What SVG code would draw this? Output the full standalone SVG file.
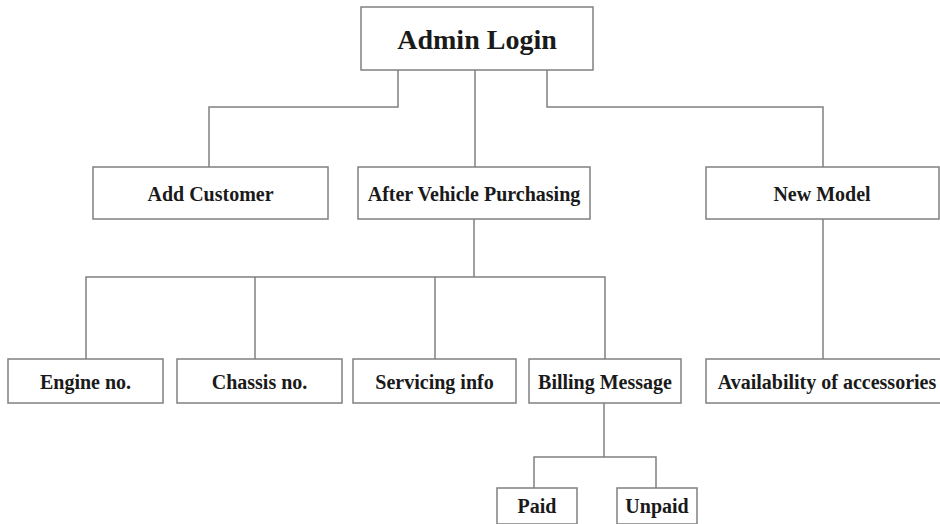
<svg xmlns="http://www.w3.org/2000/svg" width="940" height="524" viewBox="0 0 940 524">
<style>
.box{fill:#fff;stroke:#808080;stroke-width:1.5}
.lbl{font-family:"Liberation Serif","Times New Roman",serif;font-weight:bold;font-size:20px;fill:#1a1a1a;text-anchor:middle}
.big{font-size:28px}
.ln{fill:none;stroke:#808080;stroke-width:1.5}
</style>
<rect width="940" height="524" fill="#fff"/>
<g id="connectors">
<polyline class="ln" points="398,70 398,107 209,107 209,167"/>
<polyline class="ln" points="475,70 475,167"/>
<polyline class="ln" points="547,70 547,107 823,107 823,167"/>
<polyline class="ln" points="474,219 474,277"/>
<polyline class="ln" points="86,359 86,277 605,277 605,359"/>
<line class="ln" x1="255" y1="277" x2="255" y2="359"/>
<line class="ln" x1="435" y1="277" x2="435" y2="359"/>
<line class="ln" x1="823" y1="219" x2="823" y2="359"/>
<polyline class="ln" points="604,403 604,457"/>
<polyline class="ln" points="534,488 534,457 656,457 656,488"/>
</g>
<g id="admin-login"><rect class="box" x="361" y="7" width="232" height="63"/><text class="lbl big" x="477" y="49">Admin Login</text></g>
<g id="add-customer"><rect class="box" x="93" y="167" width="235" height="52"/><text class="lbl" x="210.5" y="201">Add Customer</text></g>
<g id="after-vehicle"><rect class="box" x="358" y="167" width="232" height="52"/><text class="lbl" x="474" y="201">After Vehicle Purchasing</text></g>
<g id="new-model"><rect class="box" x="706" y="167" width="233" height="52"/><text class="lbl" x="822" y="201">New Model</text></g>
<g id="engine-no"><rect class="box" x="8" y="359" width="155" height="44"/><text class="lbl" x="85.5" y="389">Engine no.</text></g>
<g id="chassis-no"><rect class="box" x="177" y="359" width="165" height="44"/><text class="lbl" x="259.5" y="389">Chassis no.</text></g>
<g id="servicing-info"><rect class="box" x="353" y="359" width="163" height="44"/><text class="lbl" x="434.5" y="389">Servicing info</text></g>
<g id="billing-message"><rect class="box" x="529" y="359" width="152" height="44"/><text class="lbl" x="605" y="389">Billing Message</text></g>
<g id="availability"><rect class="box" x="706" y="359" width="242" height="44"/><text class="lbl" x="827" y="389">Availability of accessories</text></g>
<g id="paid"><rect class="box" x="497" y="488" width="80" height="36"/><text class="lbl" x="537" y="513">Paid</text></g>
<g id="unpaid"><rect class="box" x="617" y="488" width="80" height="36"/><text class="lbl" x="657" y="513">Unpaid</text></g>
</svg>
